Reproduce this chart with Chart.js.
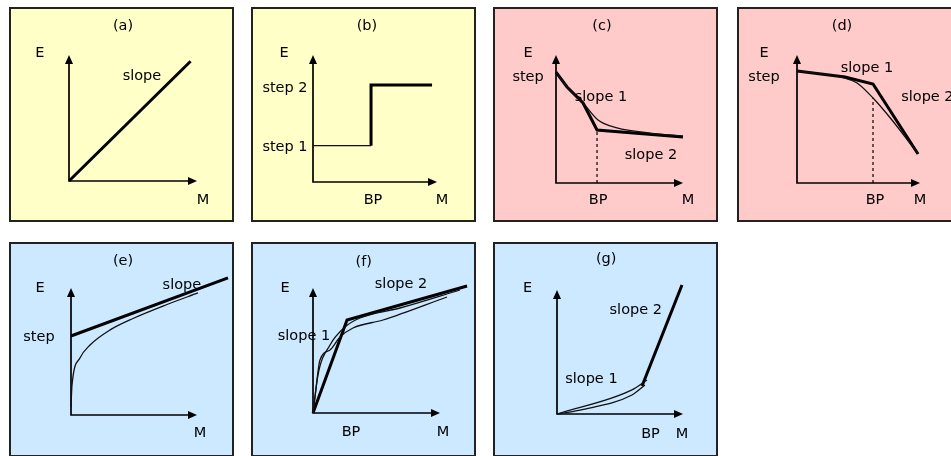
<!DOCTYPE html>
<html>
<head>
<meta charset="utf-8">
<script src="https://cdn.jsdelivr.net/npm/chart.js@4.4.1/dist/chart.umd.min.js"></script>
<style>
  body { margin: 0; background: #fff; width: 951px; height: 456px; overflow: hidden; position: relative; }
  .panel { position: absolute; width: 225px; height: 215px; box-sizing: border-box; border: 2px solid #222; }
  .panel canvas { display: block; }
</style>
</head>
<body>
<script>
// Every panel uses its own unit space: the axis arrows end at x = 10 and y = 10.

// (a) linear
const aLine = [[0, 0], [9.5, 9.5]];
const aLabels = [["(a)", 4.22, 12.3], ["E", -2.27, 10.16], ["M", 10.47, -1.5], ["slope", 5.7, 8.33]];

// (b) step
const bStep1 = [[0, 2.86], [4.68, 2.86]];
const bStep2 = [[4.68, 2.86], [4.68, 7.64], [9.6, 7.64]];
const bLabels = [["(b)", 4.35, 12.26], ["E", -2.34, 10.16], ["step 2", -2.26, 7.4], ["step 1", -2.26, 2.76],
                 ["BP", 4.84, -1.42], ["M", 10.4, -1.42]];

// (c) decreasing, flattening after BP
const cBroken = [[0, 8.67], [0.87, 7.5], [2.13, 6.25], [3.23, 4.14], [10, 3.59]];
const cCurve = [[0, 8.67], [0.87, 7.5], [2.13, 6.25], [3.31, 4.92], [4.8, 4.3], [7.4, 3.9], [10, 3.67]];
const cBP = [[3.23, 0], [3.23, 4.14]];
const cLabels = [["(c)", 3.62, 12.24], ["E", -2.2, 10.16], ["step", -2.2, 8.28], ["slope 1", 3.54, 6.72],
                 ["slope 2", 7.48, 2.19], ["BP", 3.31, -1.33], ["M", 10.4, -1.33]];

// (d) decreasing, steeper after BP
const dBroken = [[0, 8.75], [3.9, 8.28], [6.18, 7.73], [9.84, 2.27]];
const dCurve = [[0, 8.75], [3.9, 8.2], [4.88, 7.81], [6.18, 6.64], [7.72, 4.92], [9.84, 2.27]];
const dBP = [[6.18, 0], [6.18, 6.64]];
const dLabels = [["(d)", 3.66, 12.24], ["E", -2.68, 10.16], ["step", -2.68, 8.28], ["slope 1", 5.69, 8.98],
                 ["slope 2", 10.6, 6.72], ["BP", 6.34, -1.33], ["M", 10, -1.33]];

// (e) step + slope
const eLine = [[0, 6.22], [12.46, 10.79]];
const eCurve = [[0, 0.6], [0.03, 1.4], [0.08, 2.36], [0.71, 4.49], [1.51, 5.51], [3.1, 6.7], [4.92, 7.6],
                [7.62, 8.7], [10.08, 9.61]];
const eLabels = [["(e)", 4.13, 12.1], ["E", -2.46, 10], ["step", -2.54, 6.14], ["slope", 8.8, 10.24], ["M", 10.24, -1.42]];

// (f) increasing, flattening after BP
const fBroken = [[0, 0], [2.68, 7.44], [12.13, 10.16]];
const fCurve1 = [[0, 0], [0.16, 1.28], [0.55, 4.24], [1.34, 5.04], [2.13, 6.08], [3.15, 6.8], [5.51, 7.44], [10.55, 9.28]];
const fCurve2 = [[0, 0], [0.39, 3.04], [1.34, 5.44], [2.52, 6.88], [3.7, 7.6], [6.85, 8.4], [11.57, 9.84]];
const fLabels = [["(f)", 4.0, 12.1], ["E", -2.2, 10], ["slope 2", 6.93, 10.32], ["slope 1", -0.71, 6.16],
                 ["BP", 2.99, -1.52], ["M", 10.24, -1.52]];

// (g) increasing, steeper after BP
const gUpper = [[0, 0], [5.95, 1.94], [7.14, 2.74]];
const gLower = [[0, 0], [1.83, 0.32], [5.95, 1.53], [6.98, 2.34]];
const gSteep = [[6.75, 2.26], [9.92, 10.4]];
const gLabels = [["(g)", 3.9, 12.46], ["E", -2.34, 10.16], ["slope 2", 6.25, 8.4], ["slope 1", 2.73, 2.8],
                 ["BP", 7.42, -1.6], ["M", 9.92, -1.6]];

const YELLOW = "#ffffc8", PINK = "#ffcaca", BLUE = "#cce9ff";

function thick(pts) {
  return { data: pts.map(([x, y]) => ({ x, y })), borderColor: "#000", borderWidth: 3, tension: 0 };
}
function thin(pts) {
  return { data: pts.map(([x, y]) => ({ x, y })), borderColor: "#111", borderWidth: 1.3, cubicInterpolationMode: "monotone" };
}
function dashed(pts) {
  return { data: pts.map(([x, y]) => ({ x, y })), borderColor: "#000", borderWidth: 1.2, borderDash: [3, 3] };
}

const panels = [
  { left: 9,   top: 7,   bg: YELLOW, pad: { left: 58, right: 35, top: 46, bottom: 39 }, labels: aLabels,
    sets: [thick(aLine)] },
  { left: 251, top: 7,   bg: YELLOW, pad: { left: 60, right: 37, top: 46, bottom: 38 }, labels: bLabels,
    sets: [thin(bStep1), thick(bStep2)] },
  { left: 493, top: 7,   bg: PINK,   pad: { left: 61, right: 33, top: 46, bottom: 37 }, labels: cLabels,
    sets: [thin(cCurve), thick(cBroken), dashed(cBP)] },
  { left: 737, top: 7,   bg: PINK,   pad: { left: 58, right: 40, top: 46, bottom: 37 }, labels: dLabels,
    sets: [thin(dCurve), thick(dBroken), dashed(dBP)] },
  { left: 9,   top: 242, bg: BLUE,   pad: { left: 60, right: 35, top: 44, bottom: 40 }, labels: eLabels,
    sets: [thin(eCurve), thick(eLine)] },
  { left: 251, top: 242, bg: BLUE,   pad: { left: 60, right: 34, top: 44, bottom: 42 }, labels: fLabels,
    sets: [thin(fCurve1), thin(fCurve2), thick(fBroken)] },
  { left: 493, top: 242, bg: BLUE,   pad: { left: 62, right: 33, top: 46, bottom: 41 }, labels: gLabels,
    sets: [thin(gUpper), thin(gLower), thick(gSteep)] },
];

// axes with arrow heads and the text, placed through the scales
function overlay(labels) {
  return {
    id: "overlay",
    beforeDatasetsDraw(chart) {
      const { ctx, scales: { x, y } } = chart;
      const x0 = x.getPixelForValue(0), y0 = y.getPixelForValue(0);
      const x1 = x.getPixelForValue(x.max), y1 = y.getPixelForValue(y.max);
      ctx.save();
      ctx.strokeStyle = "#000";
      ctx.fillStyle = "#000";
      ctx.lineWidth = 1.7;
      ctx.beginPath();
      ctx.moveTo(x0, y1 + 5);
      ctx.lineTo(x0, y0);
      ctx.lineTo(x1 - 5, y0);
      ctx.stroke();
      ctx.beginPath();
      ctx.moveTo(x1, y0); ctx.lineTo(x1 - 9, y0 - 4); ctx.lineTo(x1 - 9, y0 + 4);
      ctx.fill();
      ctx.beginPath();
      ctx.moveTo(x0, y1); ctx.lineTo(x0 - 4, y1 + 9); ctx.lineTo(x0 + 4, y1 + 9);
      ctx.fill();
      ctx.restore();
    },
    afterDatasetsDraw(chart) {
      const { ctx, scales: { x, y } } = chart;
      ctx.save();
      ctx.fillStyle = "#000";
      ctx.font = '14.5px "DejaVu Sans"';
      ctx.textAlign = "center";
      ctx.textBaseline = "middle";
      labels.forEach(([t, vx, vy]) => ctx.fillText(t, x.getPixelForValue(vx), y.getPixelForValue(vy)));
      ctx.restore();
    }
  };
}

panels.forEach((p) => {
  const div = document.createElement("div");
  div.className = "panel";
  div.style.left = p.left + "px";
  div.style.top = p.top + "px";
  div.style.background = p.bg;
  const canvas = document.createElement("canvas");
  canvas.width = 221;
  canvas.height = 211;
  div.appendChild(canvas);
  document.body.appendChild(div);

  new Chart(canvas, {
    type: "scatter",
    data: { datasets: p.sets.map((s) => ({ ...s, showLine: true, pointRadius: 0, clip: false, fill: false })) },
    options: {
      responsive: false,
      animation: false,
      events: [],
      layout: { padding: p.pad },
      plugins: { legend: { display: false }, tooltip: { enabled: false } },
      scales: {
        x: { type: "linear", min: 0, max: 10, display: false },
        y: { type: "linear", min: 0, max: 10, display: false }
      }
    },
    plugins: [overlay(p.labels)]
  });
});
</script>
</body>
</html>
